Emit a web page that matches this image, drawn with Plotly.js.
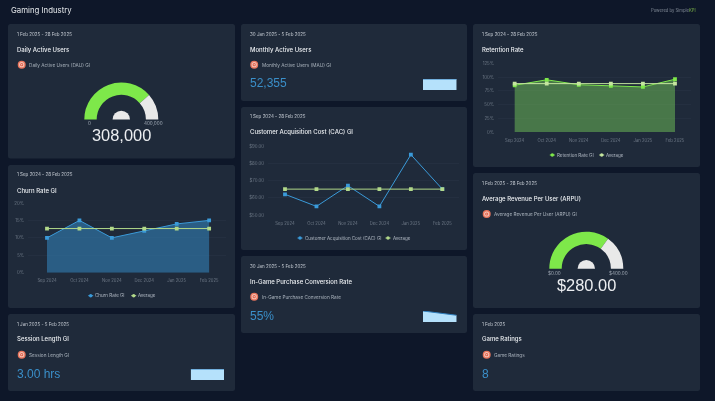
<!DOCTYPE html>
<html><head><meta charset="utf-8">
<script src="https://cdn.plot.ly/plotly-3.0.1.min.js"></script>
<style>html,body{margin:0;padding:0;background:#0e1729;overflow:hidden}#c{width:715px;height:401px;filter:blur(.3px)}</style>
</head><body><div id="c"></div>
<script>
const months=["Sep 2024","Oct 2024","Nov 2024","Dec 2024","Jan 2025","Feb 2025"];
const churnRate=[10,15,10,12,14,15];
const churnAvg=[12.67,12.67,12.67,12.67,12.67,12.67];
const cac=[62,55,67,55,85,65];
const cacAvg=[65,65,65,65,65,65];
const retention=[85,95,86,84,82,96];
const retentionAvg=[88,88,88,88,88,88];
const dauValue=308000, dauMax=400000;
const arpuValue=280, arpuMax=400;
const mauSpark=[52355,52355];
const sessionSpark=[3,3];
const purchaseSpark=[90,55];

const W=715,H=401;
const px=x=>x/W, py=y=>1-y/H;
const FONT='Inter, "Noto Sans", sans-serif';
const ARIAL='"Liberation Sans", Arial, sans-serif';
const BG='#0e1729',CARD='#1f2a3a',GRID='#283444',TICK='#6d7886',WHITE='#eceff2',DIM='#a9b2bc';
const BLUE='#3a9ad9',GREEN='#7ee84a',LIME='#b2d98a',VAL='#3a8fc9';

const shapes=[],annotations=[],data=[],layout={};
function card(x0,y0,x1,y1){
  const r=2.5;
  shapes.push({type:'path',xref:'paper',yref:'paper',layer:'below',fillcolor:CARD,line:{width:0},
    path:`M${px(x0+r)},${py(y0)} L${px(x1-r)},${py(y0)} Q${px(x1)},${py(y0)} ${px(x1)},${py(y0+r)} L${px(x1)},${py(y1-r)} Q${px(x1)},${py(y1)} ${px(x1-r)},${py(y1)} L${px(x0+r)},${py(y1)} Q${px(x0)},${py(y1)} ${px(x0)},${py(y1-r)} L${px(x0)},${py(y0+r)} Q${px(x0)},${py(y0)} ${px(x0+r)},${py(y0)} Z`});
}
function txt(x,y,text,size,color,anchor,family,weight){
  annotations.push({xref:'paper',yref:'paper',x:px(anchor?x:x-1),y:py(y),text,showarrow:false,borderpad:0,
    xanchor:anchor||'left',yanchor:'middle',font:{size,color,family:family||FONT,weight:weight||400}});
}
function dot(cx,cy,r,color){
  shapes.push({type:'circle',xref:'paper',yref:'paper',layer:'below',fillcolor:color,line:{width:0},
    x0:px(cx-r),x1:px(cx+r),y0:py(cy+r),y1:py(cy-r)});
}
function icon(cx,cy){dot(cx,cy,4,'#e8745c');dot(cx,cy,2.6,'#f3c3b6');dot(cx,cy,1.6,'#e0604a');dot(cx,cy,.6,'#f6dcd4');}
function header(x,yDate,date,title,sub){
  txt(x,yDate,date,4.5,'#c8ced6');
  txt(x,yDate+15.2,title,6,WHITE,null,null,500);
  if(sub){icon(x+4.7,yDate+30.7);txt(x+12.3,yDate+30.7,sub,4.7,DIM);}
}
let axN=0;
function axes(x0,x1,yTop,yBot,xr,yr,opts){
  axN++;const s=axN===1?'':axN;
  layout['xaxis'+s]=Object.assign({domain:[px(x0),px(x1)],anchor:'y'+s,range:xr,type:opts.cat?'category':'linear',fixedrange:true,
    showgrid:false,zeroline:false,showline:false,visible:!!opts.cat,ticks:'outside',ticklen:3.5,tickcolor:'rgba(0,0,0,0)',
    tickfont:{size:4.2,color:TICK,family:FONT},tickangle:0},opts.x||{});
  layout['yaxis'+s]=Object.assign({domain:[py(yBot),py(yTop)],anchor:'x'+s,range:yr,fixedrange:true,
    showgrid:!!opts.cat,gridcolor:GRID,gridwidth:.6,zeroline:false,showline:false,visible:!!opts.cat,ticks:'outside',ticklen:2,tickcolor:'rgba(0,0,0,0)',
    tickfont:{size:4.4,color:TICK,family:FONT}},opts.y||{});
  return {xaxis:'x'+s,yaxis:'y'+s};
}
function lineChart(x0,x1,yTop,yBot,xr,yr,yopts,name,vals,avg,color,avgColor,fill){
  const a=axes(x0,x1,yTop,yBot,xr,yr,{cat:true,y:yopts});
  data.push(Object.assign({type:'scatter',mode:'lines+markers',name,x:months,y:vals,line:{color,width:1},marker:{color,size:3.8,symbol:'square'},
    fill:fill?'tozeroy':'none',fillcolor:fill||undefined,hoverinfo:'skip',showlegend:false},a));
  data.push(Object.assign({type:'scatter',mode:'lines+markers',name:'Average',x:months,y:avg,line:{color:avgColor,width:1},marker:{color:avgColor,size:3.8,symbol:'square'},
    hoverinfo:'skip',showlegend:false},a));
}
function legendItem(mx,y,textX,label,color){
  shapes.push({type:'line',xref:'paper',yref:'paper',layer:'above',x0:px(mx-2.5),x1:px(mx+2.5),y0:py(y),y1:py(y),line:{color,width:1}});
  dot(mx,y,1.7,color);shapes[shapes.length-1].layer='above';
  txt(textX,y,label,4.5,'#b4bcc6');
}
function spark(x0,x1,yTop,yBot,vals,ymax){
  const a=axes(x0,x1,yTop,yBot,[0,1],[0,ymax],{});
  data.push(Object.assign({type:'scatter',mode:'lines',x:[0,1],y:vals,line:{color:'#2f7fbd',width:1},fill:'tozeroy',fillcolor:'#b5e1fb',hoverinfo:'skip',showlegend:false,cliponaxis:false},a));
}
function gauge(cx,base,r,val,max){
  data.push({type:'pie',values:[val,max-val,max],sort:false,direction:'clockwise',rotation:-90,hole:.665,textinfo:'none',hoverinfo:'skip',showlegend:false,
    marker:{colors:[GREEN,'#e9e9e9','rgba(0,0,0,0)'],line:{width:0}},
    domain:{x:[px(cx-r),px(cx+r)],y:[py(base+r),py(base-r)]}});
  const q=8.7;
  data.push({type:'pie',values:[1,1],sort:false,direction:'clockwise',rotation:-90,textinfo:'none',hoverinfo:'skip',showlegend:false,
    marker:{colors:['#e9e9e9','rgba(0,0,0,0)'],line:{width:0}},
    domain:{x:[px(cx-q),px(cx+q)],y:[py(base+q),py(base-q)]}});
}

[[8,24,235,158.5],[8,165,235,308],[8,314,235,391],
 [241,24,467,101],[241,107,467,250],[241,256,467,333],
 [473,24,700,167],[473,173,700,308],[473,314,700,391]].forEach(c=>card(...c));

txt(11,10,'Gaming Industry',7.8,'#e6e9ec');
txt(697,10,'Powered by Simple<span style="color:#7fb84a">KPI</span>',4.2,'#808a96','right');

// Daily Active Users
header(17,34,'1 Feb 2025 - 28 Feb 2025','Daily Active Users','Daily Active Users (DAU) GI');
gauge(121.3,119.5,37,dauValue,dauMax);
txt(89,123.7,'0',4.6,'#a4adb8','center');
txt(153.5,123.7,'400,000',4.6,'#a4adb8','center');
txt(121,135,dauValue.toLocaleString('en-US'),16.4,'#eceef1','center',ARIAL);

// Churn
header(17,174.8,'1 Sep 2024 - 28 Feb 2025','Churn Rate GI');
lineChart(28,226,203,272.7,[-.586,5.52],[0,20],{dtick:5,ticksuffix:'%'},'Churn Rate GI',churnRate,churnAvg,BLUE,LIME,'rgba(50,128,182,.6)');
legendItem(90.7,295.7,95.3,'Churn Rate GI',BLUE);
legendItem(133.7,295.7,138,'Average',LIME);

// Session Length
header(17,324,'1 Jan 2025 - 5 Feb 2025','Session Length GI','Session Length GI');
txt(17,374,'3.00 hrs',12,VAL,null,ARIAL);
spark(190.7,224,369,380,sessionSpark,3);

// MAU
header(249.5,34,'30 Jan 2025 - 5 Feb 2025','Monthly Active Users','Monthly Active Users (MAU) GI');
txt(249.5,83.5,mauSpark[1].toLocaleString('en-US'),12,VAL,null,ARIAL);
spark(423,456.7,79,90,mauSpark,52355);

// CAC
header(249.5,117,'1 Sep 2024 - 28 Feb 2025','Customer Acquisition Cost (CAC) GI');
lineChart(268,458.7,146,215,[-.54,5.52],[50,90],{dtick:10,tickprefix:'$',tickformat:'.2f'},'Customer Acquisition Cost (CAC) GI',cac,cacAvg,BLUE,LIME);
legendItem(300,238,304.6,'Customer Acquisition Cost (CAC) GI',BLUE);
legendItem(388,238,393,'Average',LIME);

// In-game purchase
header(249.5,266,'30 Jan 2025 - 5 Feb 2025','In-Game Purchase Conversion Rate','In-Game Purchase Conversion Rate');
txt(249.5,316,'55%',12,VAL,null,ARIAL);
spark(423,456.7,311,322,purchaseSpark,90);

// Retention
header(482,34,'1 Sep 2024 - 28 Feb 2025','Retention Rate');
lineChart(498,690.7,63.3,132,[-.52,5.49],[0,125],{dtick:25,ticksuffix:'%'},'Retention Rate GI',retention,retentionAvg,GREEN,'#c5e69f','rgba(112,190,88,.52)');
legendItem(552.3,155,557,'Retention Rate GI',GREEN);
legendItem(601.7,155,606,'Average','#c5e69f');

// ARPU
header(482,183.3,'1 Feb 2025 - 28 Feb 2025','Average Revenue Per User (ARPU)','Average Revenue Per User (ARPU) GI');
gauge(586.3,268.7,37,arpuValue,arpuMax);
txt(554.3,273,'$0.00',4.6,'#a4adb8','center');
txt(618.7,273,'$400.00',4.6,'#a4adb8','center');
txt(586.3,285,'$'+arpuValue.toFixed(2),16.4,'#eceef1','center',ARIAL);

// Game ratings
header(482,324,'1 Feb 2025','Game Ratings','Game Ratings');
txt(482,374,'8',12,VAL,null,ARIAL);

Object.assign(layout,{width:W,height:H,margin:{l:0,r:0,t:0,b:0,pad:0},paper_bgcolor:BG,plot_bgcolor:'rgba(0,0,0,0)',
  showlegend:false,shapes,annotations,font:{family:FONT}});
Plotly.newPlot('c',data,layout,{displayModeBar:false,staticPlot:true});
</script></body></html>
